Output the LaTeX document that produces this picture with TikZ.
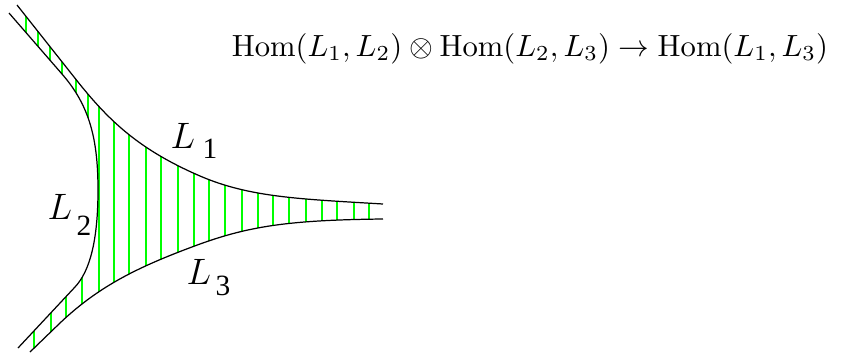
\documentclass[tikz,border=0pt]{standalone}
\usepackage{fontspec}
\newfontfamily\labfont{Liberation Serif}
\begin{document}
\begin{tikzpicture}[x=0.3265pt,y=-0.3265pt,
  bound/.style={black, line width=0.4pt},
  hatch/.style={green, line width=0.4pt},
  lab/.style={font=\fontsize{12.5}{14}\selectfont, inner sep=0pt},
  sub/.style={font=\labfont\fontsize{9.6}{11}\selectfont, inner sep=0pt}]
\useasboundingbox (0,0) rectangle (843,353);
\def\Lone{(17,5) -- (78,82) .. controls (110,122) and (140,150) .. (200,176) .. controls (250,197.5) and (300,199) .. (383,204)}
\def\Lthree{(383,219) .. controls (290,220) and (250,226) .. (200,244) .. controls (140,266) and (100,285) .. (60,323) -- (30,352)}
\def\Ltwo{(18,348) -- (75,287) .. controls (90,271) and (98,240) .. (98,190) .. controls (98,140) and (90,106) .. (62,74) -- (9,13)}
\begin{scope}
  \clip \Lone -- \Lthree -- \Ltwo -- cycle;
  \begin{scope}
    \clip (0,0) rectangle (97,190);
    \foreach \x in {26,38,50,62,76,88} \draw[hatch] (\x,0) -- (\x,353);
  \end{scope}
  \begin{scope}
    \clip (0,190) rectangle (97,353);
    \foreach \x in {34,51,66,82} \draw[hatch] (\x,0) -- (\x,353);
  \end{scope}
  \foreach \x in {99,114,129,146,161,178,194,209,225,242,258,273,289,306,322,337,354,369} \draw[hatch] (\x,0) -- (\x,353);
\end{scope}
\draw[bound] \Lone;
\draw[bound] \Lthree;
\draw[bound] \Ltwo;
\node[lab, anchor=base west] (l1) at (170,148) {$L$};
\node[sub, anchor=base west] (s1) at (202,158) {1};
\node[lab, anchor=base west] (l2) at (47,219) {$L$};
\node[sub, anchor=base west] (s2) at (76,235) {2};
\node[lab, anchor=base west] (l3) at (186,284) {$L$};
\node[sub, anchor=base west] (s3) at (215,295) {3};
\node[inner sep=0pt, anchor=base] (hom) at (530,56) {$\mathrm{Hom}(L_1,L_2)\otimes\mathrm{Hom}(L_2,L_3)\to\mathrm{Hom}(L_1,L_3)$};
\end{tikzpicture}
\end{document}
